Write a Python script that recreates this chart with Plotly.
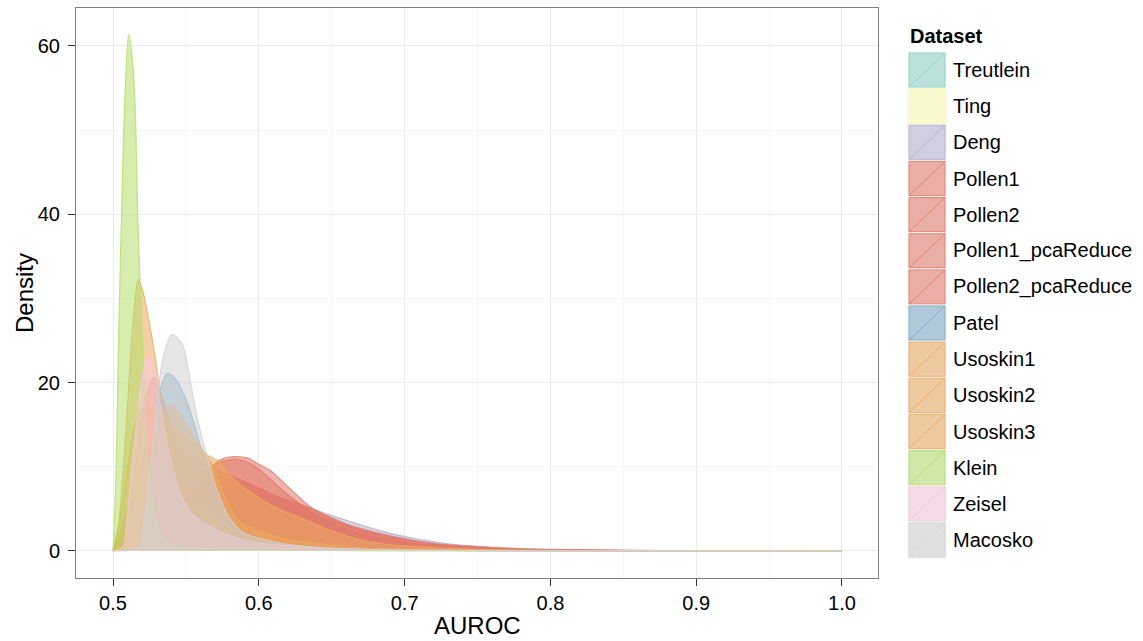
import plotly.graph_objects as go

# ---------------- data ----------------
datasets = ["Treutlein", "Ting", "Deng", "Pollen1", "Pollen2", "Pollen1_pcaReduce",
            "Pollen2_pcaReduce", "Patel", "Usoskin1", "Usoskin2", "Usoskin3",
            "Klein", "Zeisel", "Macosko"]
colors = ["#8DD3C7", "#FFFFB3", "#B4B0CF", "#E27868", "#E27868", "#E27868",
          "#E27868", "#78A6C6", "#EDA95C", "#EDA95C", "#EDA95C",
          "#B3DE69", "#F5C8DE", "#D2D2D2"]

x_ticks = [0.5, 0.6, 0.7, 0.8, 0.9, 1.0]
x_tick_labels = ["0.5", "0.6", "0.7", "0.8", "0.9", "1.0"]
y_ticks = [0, 20, 40, 60]
y_tick_labels = ["0", "20", "40", "60"]

treutlein_x = []
treutlein_y = []
ting_x = []
ting_y = []

deng_x = [0.5, 0.51, 0.52, 0.54, 0.56, 0.58, 0.60, 0.62, 0.635, 0.6626, 0.6854, 0.7083, 0.7311, 0.7654, 0.80, 0.85, 0.90, 0.95, 1.0]
deng_y = [0, 0.8, 2.0, 4.0, 6.0, 7.0, 6.8, 6.0, 5.1, 3.5, 2.3, 1.43, 0.83, 0.4, 0.2, 0.08, 0.03, 0.01, 0]

pollen1_x = [0.5, 0.52, 0.54, 0.555, 0.565, 0.5734, 0.5825, 0.5928, 0.6008, 0.6077, 0.6214, 0.635, 0.6488, 0.6626, 0.6854, 0.7083, 0.731, 0.7654, 0.8, 0.85, 0.9, 1.0]
pollen1_y = [0, 1.5, 4.0, 7.0, 9.5, 10.8, 11.2, 11.0, 10.2, 9.6, 7.4, 5.3, 3.9, 2.9, 1.7, 0.9, 0.5, 0.25, 0.12, 0.05, 0.02, 0]

pollen2_x = [0.5, 0.52, 0.54, 0.555, 0.57, 0.585, 0.595, 0.605, 0.615, 0.625, 0.635, 0.65, 0.67, 0.69, 0.72, 0.76, 0.8, 0.9, 1.0]
pollen2_y = [0, 2.0, 5.0, 8.0, 10.3, 10.9, 10.3, 9.0, 7.4, 6.0, 4.8, 3.3, 2.0, 1.2, 0.6, 0.25, 0.1, 0.02, 0]

pollen1_pca_x = [0.5, 0.508, 0.515, 0.521, 0.528, 0.535, 0.545, 0.56, 0.575, 0.5917, 0.61, 0.635, 0.66, 0.69, 0.72, 0.76, 0.8, 0.9, 1.0]
pollen1_pca_y = [0, 3.0, 10.0, 17.0, 20.7, 17.5, 12.5, 9.5, 8.7, 8.0, 6.65, 5.1, 3.2, 1.8, 0.9, 0.4, 0.15, 0.03, 0]

pollen2_pca_x = [0.5, 0.51, 0.52, 0.53, 0.54, 0.56, 0.58, 0.60, 0.62, 0.64, 0.66, 0.69, 0.72, 0.76, 0.8, 0.9, 1.0]
pollen2_pca_y = [0, 2.0, 6.0, 11.0, 12.5, 10.5, 9.0, 7.5, 5.8, 4.2, 3.0, 1.7, 0.8, 0.35, 0.12, 0.02, 0]

patel_x = [0.5, 0.51, 0.52, 0.527, 0.533, 0.537, 0.5425, 0.5494, 0.5562, 0.5608, 0.5654, 0.571, 0.58, 0.589, 0.61, 0.64, 0.7, 0.8, 1.0]
patel_y = [0, 1.0, 6.0, 13.0, 19.5, 21.1, 20.5, 18.3, 14.8, 12.0, 10.0, 7.0, 3.9, 2.3, 1.0, 0.4, 0.1, 0.02, 0]

usoskin1_x = [0.5, 0.5037, 0.5075, 0.5105, 0.5135, 0.5174, 0.5208, 0.5254, 0.5288, 0.533, 0.54, 0.55, 0.56, 0.575, 0.6, 0.65, 0.7, 0.8, 1.0]
usoskin1_y = [0, 3.0, 10.9, 18.8, 26.7, 32.3, 30.6, 26.6, 23.1, 18.0, 13.0, 8.0, 5.0, 2.5, 1.0, 0.3, 0.1, 0.02, 0]

usoskin2_x = [0.5, 0.51, 0.52, 0.53, 0.54, 0.55, 0.563, 0.5665, 0.573, 0.5825, 0.594, 0.61, 0.635, 0.6534, 0.676, 0.7, 0.75, 0.8, 0.9, 1.0]
usoskin2_y = [0, 5.0, 11.0, 15.5, 17.3, 15.0, 11.6, 11.2, 10.6, 8.6, 7.0, 5.3, 3.5, 2.2, 1.1, 0.6, 0.2, 0.07, 0.01, 0]

usoskin3_x = [0.5, 0.505, 0.51, 0.515, 0.52, 0.53, 0.54, 0.55, 0.56, 0.5677, 0.578, 0.587, 0.5986, 0.621, 0.635, 0.66, 0.7, 0.8, 1.0]
usoskin3_y = [0, 4.0, 10.0, 15.0, 17.0, 16.5, 15.0, 13.5, 12.0, 10.4, 5.9, 3.5, 2.5, 1.3, 1.0, 0.5, 0.2, 0.05, 0]

klein_x = [0.5, 0.5015, 0.5025, 0.5039, 0.5057, 0.5078, 0.5107, 0.5135, 0.5153, 0.5171, 0.5199, 0.5233, 0.526, 0.53, 0.535, 0.545, 0.56, 0.6, 0.7, 1.0]
klein_y = [0, 6.0, 12.7, 25.9, 39.0, 52.2, 61.4, 58.0, 52.2, 39.0, 25.9, 12.7, 7.0, 3.5, 1.5, 0.6, 0.3, 0.1, 0.02, 0]

zeisel_x = [0.5, 0.507, 0.5094, 0.5128, 0.5163, 0.5197, 0.5242, 0.5288, 0.5322, 0.538, 0.5448, 0.554, 0.5665, 0.58, 0.594, 0.62, 0.65, 0.7, 0.8, 1.0]
zeisel_y = [0, 0.5, 3.7, 9.6, 15.6, 20.3, 23.1, 21.5, 17.5, 12.0, 7.5, 4.5, 2.9, 1.8, 1.1, 0.6, 0.3, 0.1, 0.02, 0]

macosko_x = [0.5, 0.51, 0.515, 0.5185, 0.5208, 0.5242, 0.5288, 0.5311, 0.5345, 0.5402, 0.5471, 0.5517, 0.5562, 0.5608, 0.5654, 0.571, 0.58, 0.589, 0.61, 0.635, 0.67, 0.72, 0.8, 1.0]
macosko_y = [0, 0.05, 0.2, 0.6, 2.9, 7.6, 15.6, 19.5, 23.1, 25.7, 24.7, 21.5, 17.1, 13.6, 10.8, 7.4, 3.9, 2.2, 1.1, 0.5, 0.2, 0.08, 0.02, 0]

curves_x = [treutlein_x, ting_x, deng_x, pollen1_x, pollen2_x, pollen1_pca_x, pollen2_pca_x,
            patel_x, usoskin1_x, usoskin2_x, usoskin3_x, klein_x, zeisel_x, macosko_x]
curves_y = [treutlein_y, ting_y, deng_y, pollen1_y, pollen2_y, pollen1_pca_y, pollen2_pca_y,
            patel_y, usoskin1_y, usoskin2_y, usoskin3_y, klein_y, zeisel_y, macosko_y]

# ---------------- helpers ----------------
FILL_A = 0.55
LINE_A = 0.8
FONT = "Liberation Sans, Arial, Helvetica, sans-serif"

W, H = 1143, 641
PL, PR, PT, PB = 76, 878, 8, 578  # panel pixel box


def rgba(hexc, a):
    h = hexc.lstrip("#")
    r, g, b = int(h[0:2], 16), int(h[2:4], 16), int(h[4:6], 16)
    return f"rgba({r},{g},{b},{a})"


def xp(px):
    return (px - PL) / (PR - PL)


def yp(py):
    return (PB - py) / (PB - PT)


fig = go.Figure()
for name, col, xs, ys in zip(datasets, colors, curves_x, curves_y):
    fig.add_trace(go.Scatter(
        x=xs, y=ys, name=name, mode="lines",
        line=dict(color=rgba(col, LINE_A), width=1.2, shape="spline", smoothing=0.8),
        fill="tozeroy", fillcolor=rgba(col, FILL_A),
        showlegend=False, hoverinfo="x+y+name",
    ))

# ---------------- manual legend ----------------
shapes = []
annotations = []
key_x0, key_x1 = 908, 946
key_top, key_h = 52, 36.15
annotations.append(dict(
    x=xp(908), y=yp(36), xref="paper", yref="paper", xanchor="left", yanchor="middle",
    text="<b>Dataset</b>", showarrow=False, font=dict(family=FONT, size=20, color="black")))
for i, (name, col) in enumerate(zip(datasets, colors)):
    t = key_top + i * key_h
    b = t + key_h
    shapes.append(dict(type="rect", xref="paper", yref="paper",
                       x0=xp(key_x0), x1=xp(key_x1), y0=yp(b), y1=yp(t),
                       fillcolor="#F2F2F2", line=dict(color="#F2F2F2", width=1)))
    shapes.append(dict(type="rect", xref="paper", yref="paper",
                       x0=xp(key_x0 + 1), x1=xp(key_x1 - 1), y0=yp(b - 1), y1=yp(t + 1),
                       fillcolor=rgba(col, 0.55), line=dict(color=rgba(col, 0.85), width=1)))
    shapes.append(dict(type="line", xref="paper", yref="paper",
                       x0=xp(key_x0 + 1), x1=xp(key_x1 - 1), y0=yp(b - 1), y1=yp(t + 1),
                       line=dict(color=rgba(col, 0.9), width=1)))
    annotations.append(dict(
        x=xp(951), y=yp((t + b) / 2), xref="paper", yref="paper",
        xanchor="left", yanchor="middle", text=name, showarrow=False,
        font=dict(family=FONT, size=20, color="black")))

# axis titles
annotations.append(dict(x=xp((PL + PR) / 2), y=yp(625), xref="paper", yref="paper",
                        xanchor="center", yanchor="middle", text="AUROC", showarrow=False,
                        font=dict(family=FONT, size=24, color="black")))
annotations.append(dict(x=xp(24), y=yp(293), xref="paper", yref="paper",
                        xanchor="center", yanchor="middle", text="Density", showarrow=False,
                        textangle=-90, font=dict(family=FONT, size=24, color="black")))

fig.update_layout(
    width=W, height=H,
    margin=dict(l=PL, r=W - PR, t=PT, b=H - PB, pad=0),
    paper_bgcolor="white", plot_bgcolor="white",
    font=dict(family=FONT, size=20, color="black"),
    shapes=shapes, annotations=annotations,
    showlegend=False,
)
fig.update_xaxes(
    range=[0.4746, 1.0247], tickvals=x_ticks, ticktext=x_tick_labels,
    showgrid=True, gridcolor="#EBEBEB", gridwidth=1,
    minor=dict(dtick=0.05, tick0=0.45, showgrid=True, gridcolor="#F6F6F6", gridwidth=1, ticks=""),
    showline=True, linecolor="#7F7F7F", linewidth=1, mirror=True,
    ticks="outside", ticklen=7, tickcolor="#333333", tickwidth=1,
    tickfont=dict(family=FONT, size=20, color="black"),
    zeroline=False,
)
fig.update_yaxes(
    range=[-3.21, 64.51], tickvals=y_ticks, ticktext=y_tick_labels,
    showgrid=True, gridcolor="#EBEBEB", gridwidth=1,
    minor=dict(dtick=10, tick0=-10, showgrid=True, gridcolor="#F6F6F6", gridwidth=1, ticks=""),
    showline=True, linecolor="#7F7F7F", linewidth=1, mirror=True,
    ticks="outside", ticklen=7, tickcolor="#333333", tickwidth=1,
    tickfont=dict(family=FONT, size=20, color="black"),
    ticklabelstandoff=4,
    zeroline=False,
)

fig.write_html("out.html")
